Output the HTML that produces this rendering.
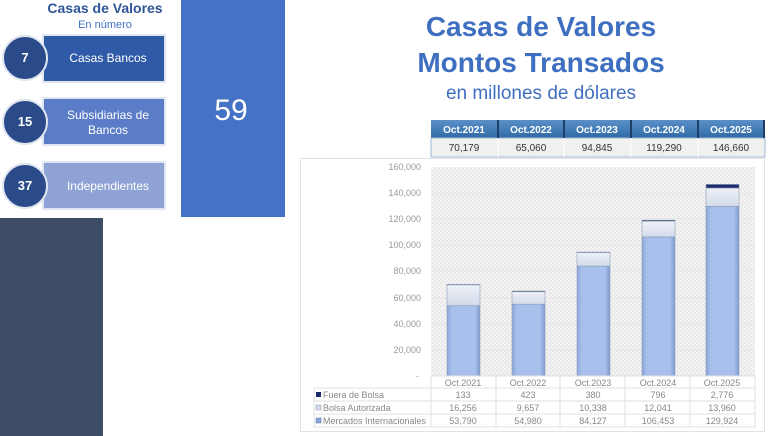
<!DOCTYPE html>
<html><head><meta charset="utf-8"><style>
html,body{margin:0;padding:0;background:#fff;width:780px;height:436px;overflow:hidden}
svg{display:block;font-family:"Liberation Sans",sans-serif}
</style></head><body>
<svg width="780" height="436" viewBox="0 0 780 436" xmlns="http://www.w3.org/2000/svg">
<defs>
<linearGradient id="bm" x1="0" x2="1"><stop offset="0" stop-color="#8aa6dc"/><stop offset="0.15" stop-color="#a9c0ec"/><stop offset="0.85" stop-color="#a9c0ec"/><stop offset="1" stop-color="#7f9bd2"/></linearGradient>
<linearGradient id="bb" x1="0" x2="0" y1="0" y2="1"><stop offset="0" stop-color="#eef1f8"/><stop offset="1" stop-color="#d3dbea"/></linearGradient>
<linearGradient id="hd" x1="0" x2="0" y1="0" y2="1"><stop offset="0" stop-color="#5b8fc7"/><stop offset="1" stop-color="#2f6aa6"/></linearGradient>
<pattern id="hatch" width="4" height="4" patternUnits="userSpaceOnUse"><rect width="4" height="4" fill="#f4f4f4"/><path d="M0 4L4 0" stroke="#e3e3e3" stroke-width="1"/></pattern>
</defs>
<!-- left panel -->
<text x="105" y="13" text-anchor="middle" font-size="14" font-weight="bold" fill="#2f5597">Casas de Valores</text>
<text x="105" y="28" text-anchor="middle" font-size="11" fill="#4472c4">En número</text>
<rect x="181" y="0" width="104" height="217" fill="#4472c4"/>
<text x="231" y="120" text-anchor="middle" font-size="30" fill="#fff">59</text>
<rect x="0" y="218" width="103" height="218" fill="#3d4d66"/>
<g>
<rect x="43" y="35" width="122" height="47" fill="#2f5aa8" stroke="#dfe6f2" stroke-width="2"/>
<text x="108" y="62" text-anchor="middle" font-size="12" fill="#fff">Casas Bancos</text>
<circle cx="25" cy="58" r="22" fill="#2a4a8a" stroke="#dfe6f2" stroke-width="2"/>
<text x="25" y="62" text-anchor="middle" font-size="13" font-weight="bold" fill="#fff">7</text>
<rect x="43" y="98" width="122" height="47" fill="#5b7cc7" stroke="#dfe6f2" stroke-width="2"/>
<text x="108" y="119" text-anchor="middle" font-size="12" fill="#fff">Subsidiarias de</text>
<text x="108" y="134" text-anchor="middle" font-size="12" fill="#fff">Bancos</text>
<circle cx="25" cy="122" r="22" fill="#2a4a8a" stroke="#dfe6f2" stroke-width="2"/>
<text x="25" y="126" text-anchor="middle" font-size="13" font-weight="bold" fill="#fff">15</text>
<rect x="43" y="162" width="122" height="47" fill="#8ea2d6" stroke="#dfe6f2" stroke-width="2"/>
<text x="108" y="190" text-anchor="middle" font-size="12" fill="#fff">Independientes</text>
<circle cx="25" cy="186" r="22" fill="#2a4a8a" stroke="#dfe6f2" stroke-width="2"/>
<text x="25" y="190" text-anchor="middle" font-size="13" font-weight="bold" fill="#fff">37</text>
</g>
<!-- title -->
<g text-anchor="middle" fill="#3f6fc0" font-weight="bold">
<text x="541" y="36" font-size="28">Casas de Valores</text>
<text x="541" y="72" font-size="28">Montos Transados</text>
</g>
<text x="541" y="99" text-anchor="middle" font-size="19" fill="#3f6fc0">en millones de dólares</text>
<!-- top header table -->
<g font-size="10" text-anchor="middle">
<rect x="431" y="120" width="334" height="18" fill="url(#hd)"/>
<rect x="431" y="138" width="334" height="19" fill="#f0f0f0" stroke="#9fb6d8"/>
<g fill="#fff" font-weight="bold">
<text x="464" y="133">Oct.2021</text><text x="531" y="133">Oct.2022</text><text x="597" y="133">Oct.2023</text><text x="664" y="133">Oct.2024</text><text x="731" y="133">Oct.2025</text></g>
<g stroke="#1f3f66" stroke-width="2"><line x1="498" y1="120" x2="498" y2="138"/><line x1="564" y1="120" x2="564" y2="138"/><line x1="631" y1="120" x2="631" y2="138"/><line x1="698" y1="120" x2="698" y2="138"/><line x1="764" y1="120" x2="764" y2="138"/></g>
<g stroke="#fff"><line x1="498" y1="138" x2="498" y2="157"/><line x1="564" y1="138" x2="564" y2="157"/><line x1="631" y1="138" x2="631" y2="157"/><line x1="698" y1="138" x2="698" y2="157"/></g>
<g fill="#333"><text x="464" y="151">70,179</text><text x="531" y="151">65,060</text><text x="597" y="151">94,845</text><text x="664" y="151">119,290</text><text x="731" y="151">146,660</text></g>
</g>
<!-- chart frame -->
<rect x="300.5" y="158.5" width="464" height="273" fill="#fff" stroke="#e2e2e2"/>
<rect x="431" y="167" width="324" height="209" fill="url(#hatch)"/>
<g stroke="#e6e6e6"><line x1="431" y1="193" x2="755" y2="193"/><line x1="431" y1="219" x2="755" y2="219"/><line x1="431" y1="245" x2="755" y2="245"/><line x1="431" y1="271" x2="755" y2="271"/><line x1="431" y1="298" x2="755" y2="298"/><line x1="431" y1="324" x2="755" y2="324"/><line x1="431" y1="350" x2="755" y2="350"/></g>
<g font-size="9" fill="#999" text-anchor="end">
<text x="421" y="170">160,000</text><text x="421" y="196">140,000</text><text x="421" y="222">120,000</text><text x="421" y="248">100,000</text><text x="421" y="274">80,000</text><text x="421" y="301">60,000</text><text x="421" y="327">40,000</text><text x="421" y="353">20,000</text><text x="419" y="379">-</text>
</g>
<!-- bars -->
<g stroke="#8c9bb5" stroke-width="0.6">
<rect x="447" y="305.7" width="33" height="70.3" fill="url(#bm)"/><rect x="447" y="284.5" width="33" height="21.2" fill="url(#bb)"/><rect x="447" y="284.3" width="33" height="0.6" fill="#1f2f5a"/>
<rect x="512" y="304.2" width="33" height="71.8" fill="url(#bm)"/><rect x="512" y="291.6" width="33" height="12.6" fill="url(#bb)"/><rect x="512" y="291" width="33" height="0.8" fill="#1f2f5a"/>
<rect x="577" y="266.1" width="33" height="109.9" fill="url(#bm)"/><rect x="577" y="252.6" width="33" height="13.5" fill="url(#bb)"/><rect x="577" y="252.1" width="33" height="0.6" fill="#1f2f5a"/>
<rect x="642" y="236.9" width="33" height="139.1" fill="url(#bm)"/><rect x="642" y="221.2" width="33" height="15.7" fill="url(#bb)"/><rect x="642" y="220.2" width="33" height="1" fill="#1f2f5a"/>
<rect x="706" y="206.3" width="33" height="169.7" fill="url(#bm)"/><rect x="706" y="188" width="33" height="18.3" fill="url(#bb)"/><rect x="706" y="184.4" width="33" height="3.6" fill="#1a2a6a"/>
</g>
<!-- data table -->
<g stroke="#e2e2e2" fill="none">
<rect x="431" y="376" width="324" height="51"/>
<rect x="314" y="388" width="441" height="39"/>
<line x1="314" y1="401" x2="755" y2="401"/><line x1="314" y1="414" x2="755" y2="414"/>
<line x1="496" y1="376" x2="496" y2="427"/><line x1="560" y1="376" x2="560" y2="427"/><line x1="625" y1="376" x2="625" y2="427"/><line x1="690" y1="376" x2="690" y2="427"/>
</g>
<g font-size="9" fill="#888" text-anchor="middle">
<text x="463" y="386">Oct.2021</text><text x="528" y="386">Oct.2022</text><text x="593" y="386">Oct.2023</text><text x="658" y="386">Oct.2024</text><text x="722" y="386">Oct.2025</text>
<text x="463" y="398">133</text><text x="528" y="398">423</text><text x="593" y="398">380</text><text x="658" y="398">796</text><text x="722" y="398">2,776</text>
<text x="463" y="411">16,256</text><text x="528" y="411">9,657</text><text x="593" y="411">10,338</text><text x="658" y="411">12,041</text><text x="722" y="411">13,960</text>
<text x="463" y="424">53,790</text><text x="528" y="424">54,980</text><text x="593" y="424">84,127</text><text x="658" y="424">106,453</text><text x="722" y="424">129,924</text>
</g>
<g font-size="9" fill="#888">
<rect x="316" y="392" width="5" height="5" fill="#1a2a6a"/><text x="323" y="398">Fuera de Bolsa</text>
<rect x="316" y="405" width="5" height="5" fill="#d3dbea" stroke="#8c9bb5" stroke-width="0.5"/><text x="323" y="411">Bolsa Autorizada</text>
<rect x="316" y="418" width="5" height="5" fill="#8aa6dc" stroke="#5a6f9a" stroke-width="0.5"/><text x="323" y="424">Mercados Internacionales</text>
</g>
</svg>
</body></html>
